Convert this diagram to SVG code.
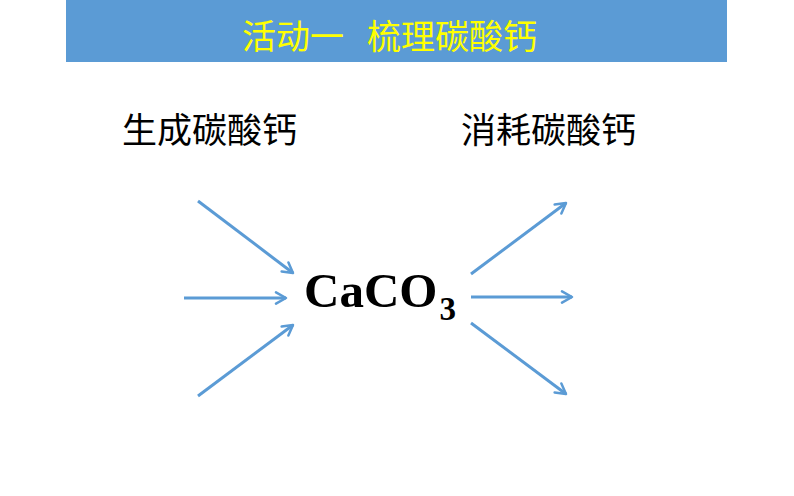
<svg xmlns="http://www.w3.org/2000/svg" width="794" height="496" viewBox="0 0 794 496">
<defs>
<marker id="arr" viewBox="0 0 12 12" refX="10" refY="6" markerWidth="5" markerHeight="5" markerUnits="strokeWidth" orient="auto">
<polyline points="2,1.5 10,6 2,10.5" fill="none" stroke="#5B9BD5" stroke-width="2" stroke-linecap="round" stroke-linejoin="round"/>
</marker>
<style>
.cn{font-family:"Noto Sans CJK SC",sans-serif;}
.title{fill:#FFFF00;font-size:34px;}
.sub{fill:#000;font-size:35px;}
.conn line{stroke:#5B9BD5;stroke-width:3;marker-end:url(#arr);}
.f{font-family:"Liberation Serif",serif;font-weight:bold;fill:#000;}
</style>
</defs>
<rect width="794" height="496" fill="#fff"/>
<g id="title">
<rect x="66" y="0" width="661" height="62" fill="#5B9BD5"/>
<text class="cn title" x="242" y="49">活动一</text>
<text class="cn title" x="367" y="49">梳理碳酸钙</text>
</g>
<g id="gen">
<text class="cn sub" x="122" y="143">生成碳酸钙</text>
</g>
<g id="con">
<text class="cn sub" x="461" y="143">消耗碳酸钙</text>
</g>
<g id="caco3">
<text class="f" x="304" y="307" font-size="49">CaCO<tspan dx="2" dy="13" font-size="33">3</tspan></text>
</g>
<g class="conn">
<line x1="198" y1="201" x2="293" y2="273"/>
<line x1="184" y1="298" x2="286" y2="298"/>
<line x1="198" y1="396" x2="293" y2="325"/>
<line x1="471" y1="274" x2="566" y2="203"/>
<line x1="471" y1="297" x2="572" y2="297"/>
<line x1="471" y1="323" x2="566" y2="394"/>
</g>
</svg>
